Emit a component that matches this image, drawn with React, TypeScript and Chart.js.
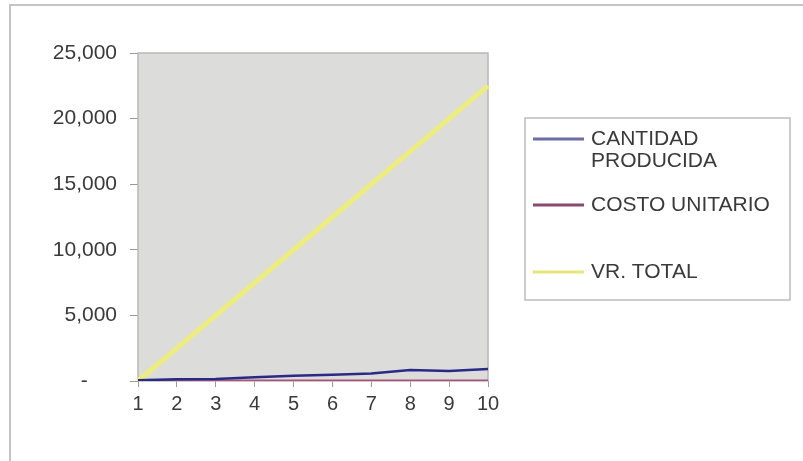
import React, { useEffect, useRef } from "react";
import { Chart, registerables } from "chart.js";

Chart.register(...registerables);

// Periods 1..10
const periods = ["1", "2", "3", "4", "5", "6", "7", "8", "9", "10"];
const cantidadProducida = [50, 130, 150, 280, 400, 480, 580, 840, 760, 910];
const costoUnitario = [25, 25, 25, 25, 25, 25, 25, 25, 25, 25];
const vrTotal = [0, 2500, 5000, 7500, 10000, 12500, 15000, 17500, 20000, 22500];
const yTicks = [0, 5000, 10000, 15000, 20000, 25000];

const seriesLabels = [["CANTIDAD", "PRODUCIDA"], ["COSTO UNITARIO"], ["VR. TOTAL"]];
const seriesColors = ["#2a2a86", "#b0507a", "#eded7c"];
const legendColors = ["#6c6ca6", "#8a4a6e", "#e6e67a"];

const FONT = "'Liberation Sans', Arial, sans-serif";

// Gray plot background with a thin frame
const plotFrame = {
  id: "plotFrame",
  beforeDatasetsDraw(chart: any) {
    const { ctx, chartArea: a } = chart;
    ctx.save();
    ctx.fillStyle = "#dcdcdb";
    ctx.fillRect(a.left, a.top, a.right - a.left, a.bottom - a.top);
    ctx.strokeStyle = "#b8b8b8";
    ctx.lineWidth = 1.5;
    ctx.strokeRect(a.left, a.top, a.right - a.left, a.bottom - a.top);
    ctx.restore();
  },
};

// Boxed legend at the right with multi-line labels
const sideLegend = {
  id: "sideLegend",
  afterDraw(chart: any) {
    const { ctx } = chart;
    ctx.save();
    // outer page frame (top and left edges)
    ctx.strokeStyle = "#c4c4c4";
    ctx.lineWidth = 2;
    ctx.beginPath();
    ctx.moveTo(10, 461);
    ctx.lineTo(10, 5);
    ctx.lineTo(803, 5);
    ctx.stroke();

    ctx.strokeStyle = "#bdbdbd";
    ctx.lineWidth = 1.5;
    ctx.strokeRect(525, 118, 265, 182);

    const rows = [139, 205, 272];
    ctx.font = `21px ${FONT}`;
    ctx.textBaseline = "middle";
    ctx.textAlign = "left";
    seriesLabels.forEach((lines, i) => {
      const y = rows[i];
      ctx.strokeStyle = legendColors[i];
      ctx.lineWidth = 3;
      ctx.beginPath();
      ctx.moveTo(533, y);
      ctx.lineTo(584, y);
      ctx.stroke();
      ctx.fillStyle = "#3a3a3a";
      lines.forEach((t, j) => ctx.fillText(t, 591, y + j * 22));
    });
    ctx.restore();
  },
};

export default function App() {
  const ref = useRef<HTMLCanvasElement | null>(null);

  useEffect(() => {
    if (!ref.current) return;
    const chart = new Chart(ref.current, {
      type: "line",
      data: {
        labels: periods,
        datasets: [
          { label: "CANTIDAD PRODUCIDA", data: cantidadProducida, borderColor: seriesColors[0], borderWidth: 2.5, pointRadius: 0, tension: 0 },
          { label: "COSTO UNITARIO", data: costoUnitario, borderColor: seriesColors[1], borderWidth: 2.5, pointRadius: 0, tension: 0 },
          { label: "VR. TOTAL", data: vrTotal, borderColor: seriesColors[2], borderWidth: 5, pointRadius: 0, tension: 0 },
        ],
      },
      options: {
        animation: false,
        responsive: false,
        layout: { padding: { left: 0, right: 315, top: 53, bottom: 0 } },
        plugins: { legend: { display: false }, tooltip: { enabled: false } },
        scales: {
          x: {
            offset: false,
            grid: { drawOnChartArea: false, tickLength: 6, color: "#9a9a9a" },
            border: { display: false },
            ticks: { color: "#3a3a3a", font: { family: FONT, size: 20 }, padding: 5, maxRotation: 0, autoSkip: false },
            afterFit(scale: any) {
              scale.height = 80;
            },
          },
          y: {
            min: 0,
            max: 25000,
            afterBuildTicks(scale: any) {
              scale.ticks = yTicks.map((v) => ({ value: v }));
            },
            grid: { drawOnChartArea: false, tickLength: 8, color: "#9a9a9a" },
            border: { display: false },
            ticks: {
              color: "#3a3a3a",
              font: { family: FONT, size: 21 },
              padding: 13,
              callback: (v: any) => (Number(v) === 0 ? "-" + "\u00a0".repeat(5) : Number(v).toLocaleString("en-US")),
            },
            afterFit(scale: any) {
              scale.width = 138;
            },
          },
        },
      },
      plugins: [plotFrame, sideLegend],
    });
    return () => chart.destroy();
  }, []);

  return (
    <div style={{ position: "fixed", left: 0, top: 0, width: 803, height: 461, background: "#fff" }}>
      <canvas ref={ref} width={803} height={461} style={{ display: "block" }} />
    </div>
  );
}
